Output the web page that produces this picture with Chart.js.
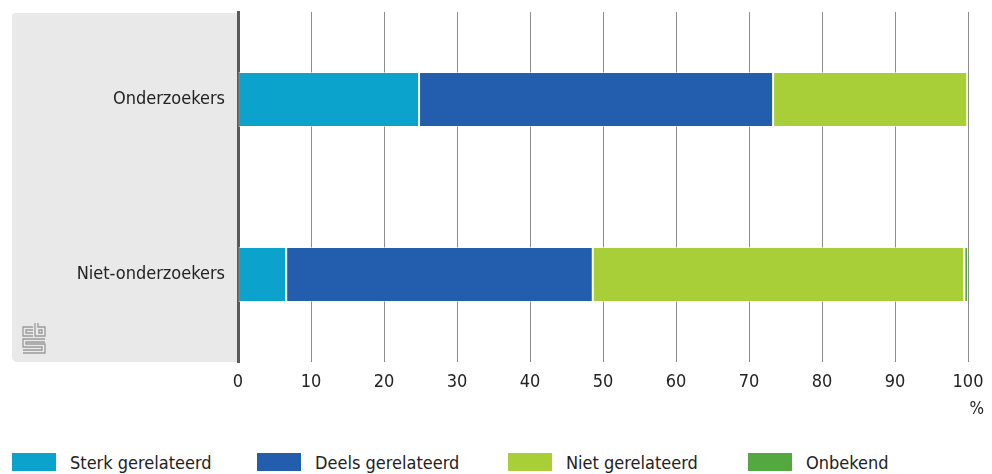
<!DOCTYPE html>
<html>
<head>
<meta charset="utf-8">
<script src="https://cdn.jsdelivr.net/npm/chart.js@4/dist/chart.umd.min.js"></script>
<style>
  html, body { margin: 0; padding: 0; background: #fff; }
  body { width: 992px; height: 474px; position: relative; overflow: hidden;
         font-family: "Liberation Sans Narrow", "DejaVu Sans Condensed", sans-serif; color: #222; }
  #wrap { position: absolute; left: 0; top: 0; width: 992px; height: 440px; }
  #legend { position: absolute; left: 12px; top: 453px; display: flex; }
  .item { width: 245px; display: flex; align-items: center; font-size: 18px; height: 18px; }
  .item:nth-child(2) { width: 251px; }
  .item:nth-child(3) { width: 240px; }
  .box { width: 44px; height: 18px; margin-right: 14px; flex: none; }
</style>
</head>
<body>
<div id="wrap"><canvas id="chart"></canvas></div>
<div id="legend"></div>
<script>
// ── data ──
const categories = ['Onderzoekers', 'Niet-onderzoekers'];
const seriesNames = ['Sterk gerelateerd', 'Deels gerelateerd', 'Niet gerelateerd', 'Onbekend'];
const sterk    = [24.8, 6.6];
const deels    = [48.5, 42.0];
const niet     = [26.6, 50.9];
const onbekend = [0.1, 0.5];
const xTicks   = [0, 10, 20, 30, 40, 50, 60, 70, 80, 90, 100];
const colors   = ['#0ba3cc', '#225ead', '#a8cf38', '#53a93f'];

const FONT = '"Liberation Sans Narrow", "DejaVu Sans Condensed", sans-serif';

// ── grey panel behind category labels + logo + unit ──
const panelPlugin = {
    id: 'panel',
    beforeDraw(chart) {
        const { ctx, chartArea: a } = chart;
        const x0 = 12, r = 6, rt = 4;
        ctx.save();
        ctx.fillStyle = '#e9e9e9';
        ctx.beginPath();
        ctx.moveTo(x0 + rt, a.top + 1);
        ctx.lineTo(a.left, a.top + 1);
        ctx.lineTo(a.left, a.bottom);
        ctx.lineTo(x0 + r, a.bottom);
        ctx.quadraticCurveTo(x0, a.bottom, x0, a.bottom - r);
        ctx.lineTo(x0, a.top + 1 + rt);
        ctx.quadraticCurveTo(x0, a.top + 1, x0 + rt, a.top + 1);
        ctx.closePath();
        ctx.fill();

        // small logo
        ctx.strokeStyle = '#9a9a9a';
        ctx.lineWidth = 1.3;
        const lx = 23, ly = 323;
        ctx.beginPath();
        // c
        ctx.moveTo(lx + 10, ly + 4); ctx.lineTo(lx, ly + 4); ctx.lineTo(lx, ly + 13); ctx.lineTo(lx + 10, ly + 13);
        ctx.moveTo(lx + 10, ly + 7); ctx.lineTo(lx + 3, ly + 7); ctx.lineTo(lx + 3, ly + 10); ctx.lineTo(lx + 10, ly + 10);
        // b
        ctx.moveTo(lx + 12, ly); ctx.lineTo(lx + 12, ly + 13); ctx.lineTo(lx + 22, ly + 13); ctx.lineTo(lx + 22, ly + 4); ctx.lineTo(lx + 15, ly + 4); ctx.lineTo(lx + 15, ly);
        ctx.rect(lx + 16, ly + 7, 3, 3);
        // S
        ctx.moveTo(lx + 22, ly + 16); ctx.lineTo(lx, ly + 16); ctx.lineTo(lx, ly + 24); ctx.lineTo(lx + 19, ly + 24); ctx.lineTo(lx + 19, ly + 27); ctx.lineTo(lx, ly + 27);
        ctx.moveTo(lx + 22, ly + 19); ctx.lineTo(lx + 3, ly + 19); ctx.lineTo(lx + 3, ly + 21); ctx.lineTo(lx + 22, ly + 21); ctx.lineTo(lx + 22, ly + 30); ctx.lineTo(lx, ly + 30);
        ctx.stroke();

        // unit label under the axis
        ctx.fillStyle = '#222';
        ctx.font = '17px ' + FONT;
        ctx.textAlign = 'right';
        ctx.textBaseline = 'middle';
        ctx.fillText('%', chart.width - 8, a.bottom + 48);
        ctx.restore();
    }
};

const datasets = [sterk, deels, niet, onbekend].map((d, i) => ({
    label: seriesNames[i],
    data: d,
    backgroundColor: colors[i],
    borderColor: 'rgba(255,255,255,0.55)',
    borderWidth: 1,
    borderSkipped: false,
    barPercentage: 0.63,
    categoryPercentage: 0.5
}));

new Chart(document.getElementById('chart'), {
    type: 'bar',
    data: { labels: categories, datasets },
    options: {
        indexAxis: 'y',
        responsive: true,
        maintainAspectRatio: false,
        animation: false,
        layout: { padding: { top: 12, left: 12, right: 24, bottom: 15 } },
        plugins: { legend: { display: false }, tooltip: { enabled: false } },
        scales: {
            x: {
                stacked: true,
                min: 0, max: 100,
                afterBuildTicks: axis => { axis.ticks = xTicks.map(v => ({ value: v })); },
                afterFit: axis => { axis.height = 63; axis.paddingLeft = 0; axis.paddingRight = 0; },
                grid: { color: '#8c8c8c', lineWidth: 1, drawTicks: false },
                border: { display: false },
                ticks: { padding: 10, color: '#222', font: { family: FONT, size: 18 } }
            },
            y: {
                stacked: true,
                afterFit: axis => { axis.width = 226; axis.paddingTop = 0; axis.paddingBottom = 0; },
                grid: { display: false, drawTicks: false },
                border: { display: true, color: '#5a5a5a', width: 3 },
                ticks: { padding: 13, color: '#222', font: { family: FONT, size: 18 } }
            }
        }
    },
    plugins: [panelPlugin]
});

// ── HTML legend ──
const legend = document.getElementById('legend');
seriesNames.forEach((name, i) => {
    const item = document.createElement('div');
    item.className = 'item';
    item.innerHTML = '<span class="box" style="background:' + colors[i] + '"></span>' + name;
    legend.appendChild(item);
});
</script>
</body>
</html>
